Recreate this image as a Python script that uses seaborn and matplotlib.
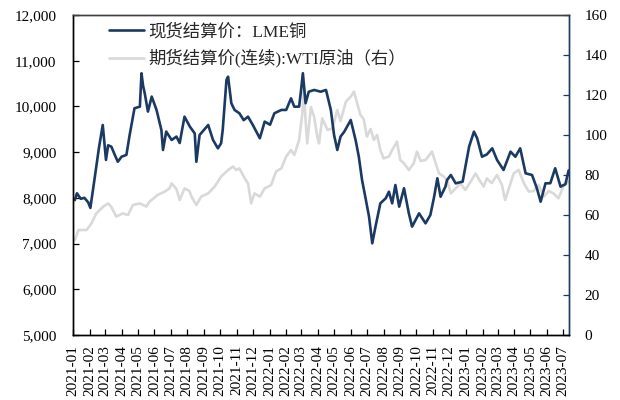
import numpy as np
import pandas as pd
import matplotlib
matplotlib.use("Agg")
import matplotlib.pyplot as plt
import matplotlib.dates as mdates
import matplotlib.ticker as mticker
import seaborn as sns

# ---------------- data ----------------
cu_dates = [
    "2021-01-04", "2021-01-08", "2021-01-15", "2021-01-22", "2021-01-29", "2021-02-02",
    "2021-02-10", "2021-02-18", "2021-02-25", "2021-03-03", "2021-03-07", "2021-03-13",
    "2021-03-19", "2021-03-25", "2021-04-01", "2021-04-10", "2021-04-16", "2021-04-25",
    "2021-05-05", "2021-05-08", "2021-05-11", "2021-05-14", "2021-05-20", "2021-05-27",
    "2021-06-05", "2021-06-14", "2021-06-17", "2021-06-23", "2021-07-03", "2021-07-12",
    "2021-07-18", "2021-07-27", "2021-08-06", "2021-08-15", "2021-08-18", "2021-08-24",
    "2021-09-09", "2021-09-18", "2021-09-27", "2021-10-03", "2021-10-06", "2021-10-13",
    "2021-10-16", "2021-10-22", "2021-10-28", "2021-11-06", "2021-11-14", "2021-11-22",
    "2021-12-01", "2021-12-14", "2021-12-23", "2022-01-02", "2022-01-10", "2022-01-23",
    "2022-02-01", "2022-02-10", "2022-02-16", "2022-02-25", "2022-02-28", "2022-03-04",
    "2022-03-09", "2022-03-15", "2022-03-25", "2022-04-06", "2022-04-16", "2022-04-19",
    "2022-04-25", "2022-05-01", "2022-05-07", "2022-05-13", "2022-05-20", "2022-06-01",
    "2022-06-10", "2022-06-16", "2022-06-22", "2022-06-28", "2022-07-05", "2022-07-11",
    "2022-07-17", "2022-07-26", "2022-08-05", "2022-08-11", "2022-08-17", "2022-08-23",
    "2022-08-30", "2022-09-08", "2022-09-17", "2022-09-23", "2022-10-06", "2022-10-18",
    "2022-10-27", "2022-11-03", "2022-11-09", "2022-11-15", "2022-11-24", "2022-11-27",
    "2022-12-04", "2022-12-13", "2022-12-26", "2023-01-07", "2023-01-16", "2023-01-22",
    "2023-01-31", "2023-02-09", "2023-02-19", "2023-02-28", "2023-03-12", "2023-03-25",
    "2023-04-03", "2023-04-12", "2023-04-22", "2023-05-04", "2023-05-13", "2023-05-20",
    "2023-05-29", "2023-06-07", "2023-06-16", "2023-06-26", "2023-07-05", "2023-07-11",
]
cu_values = [
    7950, 8100, 7980, 8000, 7900, 7780,
    8435, 9100, 9594, 8830, 9150, 9120,
    8950, 8790, 8900, 8940, 9375, 9960,
    9995, 10725, 10450, 10290, 9887, 10215,
    9923, 9485, 9047, 9450, 9266, 9340,
    9200, 9776, 9557, 9410, 8790, 9375,
    9594, 9266, 9084, 9193, 9485, 10580,
    10650, 10070, 9923, 9850, 9700, 9776,
    9594, 9303, 9667, 9600, 9850, 9923,
    9923, 10177, 9995, 9995, 10290, 10727,
    10070, 10322, 10360, 10322, 10360, 10215,
    9923, 9375, 9047, 9340, 9448, 9703,
    9266, 8900, 8390, 8025, 7588, 7006,
    7370, 7880, 7990, 8135, 7880, 8281,
    7807, 8210, 7661, 7370, 7661, 7443,
    7625, 8025, 8428, 8025, 8245, 8390,
    8500, 8318, 8354, 9120, 9448, 9303,
    8900, 8950, 9084, 8828, 8610, 9011,
    8900, 9084, 8537, 8500, 8209, 7916,
    8318, 8320, 8647, 8245, 8300, 8600,
]

wti_dates = [
    "2021-01-04", "2021-01-11", "2021-01-26", "2021-02-04", "2021-02-13", "2021-02-26",
    "2021-03-07", "2021-03-13", "2021-03-22", "2021-04-03", "2021-04-13", "2021-04-22",
    "2021-05-05", "2021-05-17", "2021-05-23", "2021-06-07", "2021-06-20", "2021-06-29",
    "2021-07-03", "2021-07-12", "2021-07-18", "2021-07-27", "2021-08-05", "2021-08-09",
    "2021-08-18", "2021-08-27", "2021-09-09", "2021-09-21", "2021-10-03", "2021-10-16",
    "2021-10-25", "2021-10-31", "2021-11-06", "2021-11-16", "2021-11-22", "2021-11-28",
    "2021-12-04", "2021-12-14", "2021-12-23", "2022-01-04", "2022-01-13", "2022-01-23",
    "2022-02-01", "2022-02-10", "2022-02-16", "2022-02-25", "2022-03-03", "2022-03-06",
    "2022-03-09", "2022-03-12", "2022-03-19", "2022-03-25", "2022-03-31", "2022-04-03",
    "2022-04-09", "2022-04-19", "2022-04-28", "2022-05-07", "2022-05-13", "2022-05-23",
    "2022-06-01", "2022-06-07", "2022-06-13", "2022-06-19", "2022-06-25", "2022-07-01",
    "2022-07-08", "2022-07-14", "2022-07-20", "2022-07-26", "2022-08-01", "2022-08-11",
    "2022-08-17", "2022-08-26", "2022-09-01", "2022-09-08", "2022-09-17", "2022-09-26",
    "2022-10-02", "2022-10-09", "2022-10-18", "2022-10-30", "2022-11-06", "2022-11-12",
    "2022-11-21", "2022-11-27", "2022-12-04", "2022-12-13", "2022-12-22", "2022-12-31",
    "2023-01-10", "2023-01-19", "2023-01-25", "2023-02-03", "2023-02-09", "2023-02-18",
    "2023-02-28", "2023-03-09", "2023-03-15", "2023-03-21", "2023-03-31", "2023-04-09",
    "2023-04-19", "2023-04-28", "2023-05-07", "2023-05-16", "2023-05-26", "2023-06-04",
    "2023-06-13", "2023-06-22", "2023-07-01", "2023-07-11",
]
wti_values = [
    47.5, 52.5, 52.5, 55.8, 60.8, 64.2,
    65.8, 64.0, 59.2, 60.8, 60.0, 65.0,
    65.8, 64.2, 66.7, 70.0, 71.7, 73.3,
    75.8, 73.0, 67.5, 73.3, 72.0, 69.2,
    65.0, 69.2, 70.8, 74.2, 79.2, 82.5,
    84.2, 82.5, 83.3, 78.3, 75.8, 65.8,
    70.8, 69.2, 73.3, 75.0, 81.7, 83.3,
    89.2, 92.5, 90.0, 97.5, 110.8, 124.0,
    107.5, 95.8, 114.0, 109.0, 99.0, 95.8,
    108.3, 102.5, 103.3, 112.5, 107.0, 116.7,
    119.2, 121.7, 115.8, 110.0, 108.0, 99.2,
    103.0, 97.5, 100.0, 92.5, 88.3, 89.2,
    92.5, 96.7, 87.5, 85.8, 82.5, 85.8,
    91.7, 87.0, 87.5, 91.7, 85.8, 80.8,
    79.2, 77.5, 70.8, 73.3, 75.8, 72.5,
    76.7, 80.8, 78.0, 74.2, 78.3, 76.0,
    80.0, 75.0, 67.5, 72.5, 80.8, 82.5,
    75.8, 71.7, 72.0, 75.0, 69.2, 72.0,
    70.8, 68.3, 74.2, 76.7,
]

cu_label = "现货结算价：LME铜"
wti_label = "期货结算价(连续):WTI原油（右）"
left_ticks = [5000, 6000, 7000, 8000, 9000, 10000, 11000, 12000]
right_ticks = [0, 20, 40, 60, 80, 100, 120, 140, 160]

cu_df = pd.DataFrame({"date": pd.to_datetime(cu_dates), "value": cu_values})
wti_df = pd.DataFrame({"date": pd.to_datetime(wti_dates), "value": wti_values})

# ---------------- style ----------------
sns.set_style("ticks")
plt.rcParams["font.family"] = ["Liberation Serif", "Noto Sans CJK SC", "DejaVu Sans"]
plt.rcParams["axes.unicode_minus"] = False

NAVY = "#1B3A63"
GREY = "#D9D9D9"

fig = plt.figure(figsize=(6.2, 4.0), dpi=100)
ax = fig.add_axes([0.118, 0.1625, 0.800, 0.800])
ax2 = ax.twinx()

sns.lineplot(data=wti_df, x="date", y="value", ax=ax2, color=GREY, linewidth=1.9,
             label=wti_label, legend=False)
sns.lineplot(data=cu_df, x="date", y="value", ax=ax, color=NAVY, linewidth=1.9,
             label=cu_label, legend=False)

# copper on top of WTI
ax.set_zorder(ax2.get_zorder() + 1)
ax.patch.set_visible(False)

ax.set_ylim(5000, 12000)
ax.set_yticks(left_ticks)
ax.yaxis.set_major_formatter(mticker.FuncFormatter(lambda v, p: f"{int(v):,}"))
ax2.set_ylim(0, 160)
ax2.set_yticks(right_ticks)

ax.set_xlim(pd.Timestamp("2021-01-01"), pd.Timestamp("2023-07-12"))
ax.xaxis.set_major_locator(mdates.MonthLocator())
ax.xaxis.set_major_formatter(mdates.DateFormatter("%Y-%m"))
for lab in ax.get_xticklabels():
    lab.set_rotation(90)

ax.set_xlabel("")
ax.set_ylabel("")
ax2.set_xlabel("")
ax2.set_ylabel("")

ax.tick_params(axis="both", direction="in", length=4, width=0.9, labelsize=11,
               colors="black")
ax.tick_params(axis="y", pad=12)
ax.tick_params(axis="x", pad=7)
ax2.tick_params(axis="y", direction="in", length=4, width=0.9, labelsize=11,
                colors="black", pad=11)
ax2.tick_params(axis="y", color=NAVY)

for a in (ax, ax2):
    a.spines["top"].set_visible(True)
    a.spines["right"].set_visible(True)
    a.spines["top"].set_color("#404040")
    a.spines["left"].set_color("black")
    a.spines["bottom"].set_color("black")
    a.spines["right"].set_color(NAVY)
    for s in a.spines.values():
        s.set_linewidth(1.0)

h1, l1 = ax.get_legend_handles_labels()
h2, l2 = ax2.get_legend_handles_labels()
leg = ax.legend(h1 + h2, l1 + l2, loc="upper left", bbox_to_anchor=(0.055, 1.0),
                frameon=False, fontsize=12.5, handlelength=2.0, handletextpad=0.25,
                labelspacing=0.5, borderaxespad=0.1)

fig.savefig("out.png", dpi=100)
